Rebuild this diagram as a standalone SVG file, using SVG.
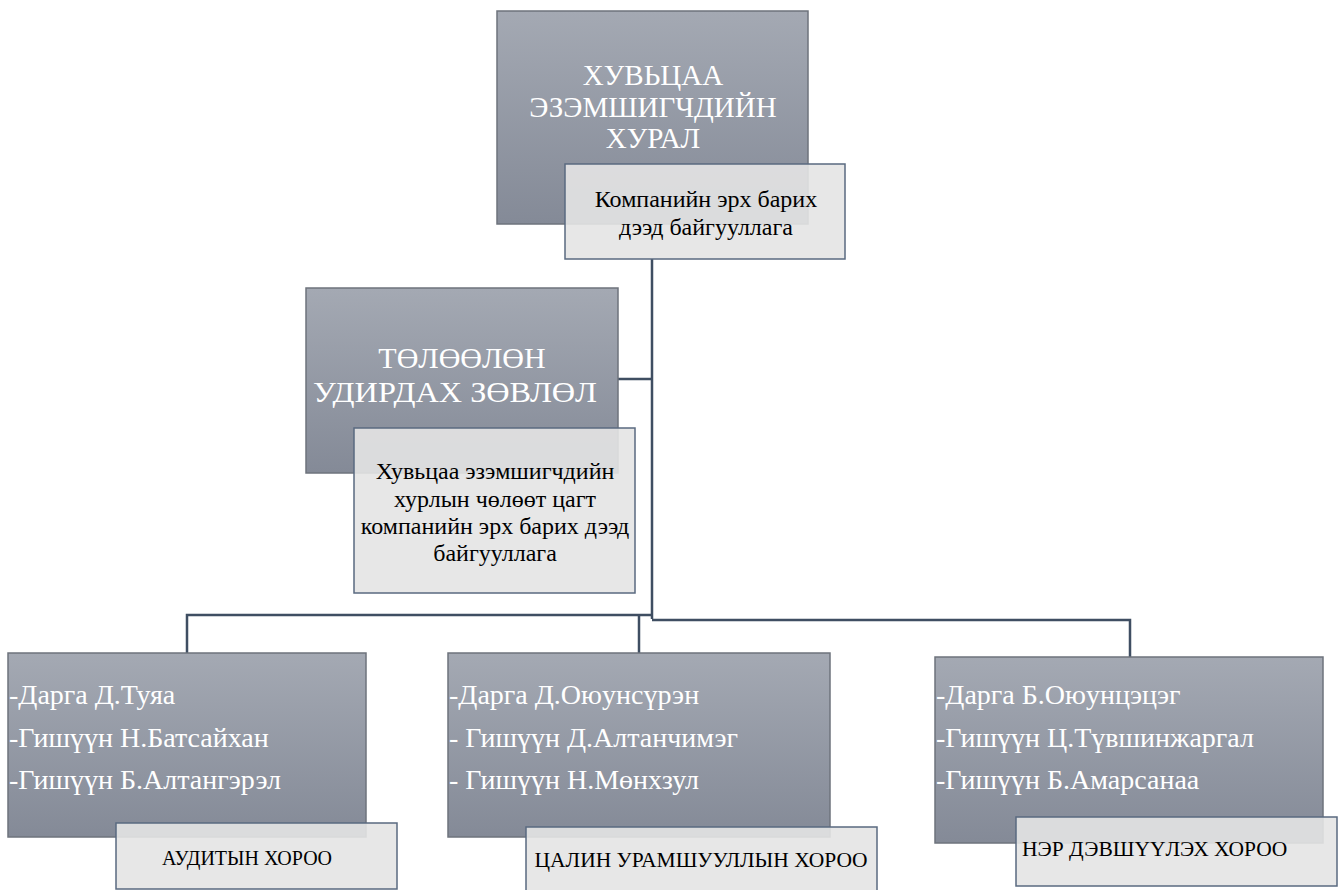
<svg xmlns="http://www.w3.org/2000/svg" width="1341" height="890" viewBox="0 0 1341 890">
<defs>
<linearGradient id="g" x1="0" y1="0" x2="0" y2="1">
<stop offset="0" stop-color="#A4A9B3"/>
<stop offset="1" stop-color="#848A97"/>
</linearGradient>
<style>
.main{fill:url(#g);stroke:#6E737C;stroke-width:1.5}
.sub{fill:#E4E4E4;fill-opacity:0.9;stroke:#5A6A80;stroke-width:1.5}
.conn{fill:none;stroke:#3F4E62;stroke-width:2.5}
.t{font-family:"Liberation Serif","DejaVu Serif",serif}
.w{fill:#FFFFFF}
.b{fill:#000000}
</style>
</defs>
<rect width="1341" height="890" fill="#FFFFFF"/>
<g id="connectors">
<path class="conn" d="M652,259 V619"/>
<path class="conn" d="M618,379 H652"/>
<path class="conn" d="M187,653 V615 H652"/>
<path class="conn" d="M639,615 V653"/>
<path class="conn" d="M652,620 H1130 V657"/>
</g>
<g id="shareholders">
<rect class="main" x="497" y="11" width="311" height="213"/>
<text class="t w" font-family="Liberation Serif, DejaVu Serif, serif" font-size="29" text-anchor="middle"><tspan x="653" y="85">ХУВЬЦАА</tspan><tspan x="653" y="117">ЭЗЭМШИГЧДИЙН</tspan><tspan x="653" y="148">ХУРАЛ</tspan></text>
<rect class="sub" x="565" y="164" width="280" height="95"/>
<text class="t b" font-family="Liberation Serif, DejaVu Serif, serif" font-size="24" text-anchor="middle"><tspan x="706" y="207">Компанийн эрх барих</tspan><tspan x="706" y="235">дээд байгууллага</tspan></text>
</g>
<g id="board">
<rect class="main" x="306" y="288" width="312" height="185"/>
<text class="t w" font-family="Liberation Serif, DejaVu Serif, serif" font-size="30" text-anchor="middle"><tspan x="462" y="368">ТӨЛӨӨЛӨН</tspan><tspan x="455" y="402" textLength="284" lengthAdjust="spacingAndGlyphs">УДИРДАХ ЗӨВЛӨЛ</tspan></text>
<rect class="sub" x="354" y="428" width="281" height="165"/>
<text class="t b" font-family="Liberation Serif, DejaVu Serif, serif" font-size="24" text-anchor="middle"><tspan x="495" y="479">Хувьцаа эзэмшигчдийн</tspan><tspan x="495" y="507">хурлын чөлөөт цагт</tspan><tspan x="495" y="534">компанийн эрх барих дээд</tspan><tspan x="495" y="561">байгууллага</tspan></text>
</g>
<g id="audit">
<rect class="main" x="8" y="653" width="358" height="184"/>
<text class="t w" font-family="Liberation Serif, DejaVu Serif, serif" font-size="28"><tspan x="9" y="704">-Дарга Д.Туяа</tspan><tspan x="9" y="747">-Гишүүн Н.Батсайхан</tspan><tspan x="9" y="789">-Гишүүн Б.Алтангэрэл</tspan></text>
<rect class="sub" x="116" y="823" width="281" height="66"/>
<text class="t b" font-family="Liberation Serif, DejaVu Serif, serif" font-size="20" text-anchor="middle" x="247" y="865">АУДИТЫН ХОРОО</text>
</g>
<g id="remuneration">
<rect class="main" x="448" y="653" width="382" height="184"/>
<text class="t w" font-family="Liberation Serif, DejaVu Serif, serif" font-size="28"><tspan x="449" y="704">-Дарга Д.Оюунсүрэн</tspan><tspan x="449" y="747">- Гишүүн Д.Алтанчимэг</tspan><tspan x="449" y="789">- Гишүүн Н.Мөнхзул</tspan></text>
<rect class="sub" x="526" y="827" width="351" height="66"/>
<text class="t b" font-family="Liberation Serif, DejaVu Serif, serif" font-size="21.5" text-anchor="middle" x="701" y="867">ЦАЛИН УРАМШУУЛЛЫН ХОРОО</text>
</g>
<g id="nomination">
<rect class="main" x="935" y="657" width="388" height="186"/>
<text class="t w" font-family="Liberation Serif, DejaVu Serif, serif" font-size="28"><tspan x="936" y="704">-Дарга Б.Оюунцэцэг</tspan><tspan x="936" y="747">-Гишүүн Ц.Түвшинжаргал</tspan><tspan x="936" y="789">-Гишүүн Б.Амарсанаа</tspan></text>
<rect class="sub" x="1016" y="817" width="321" height="69"/>
<text class="t b" font-family="Liberation Serif, DejaVu Serif, serif" font-size="21.5" x="1022" y="856">НЭР ДЭВШҮҮЛЭХ ХОРОО</text>
</g>
</svg>
